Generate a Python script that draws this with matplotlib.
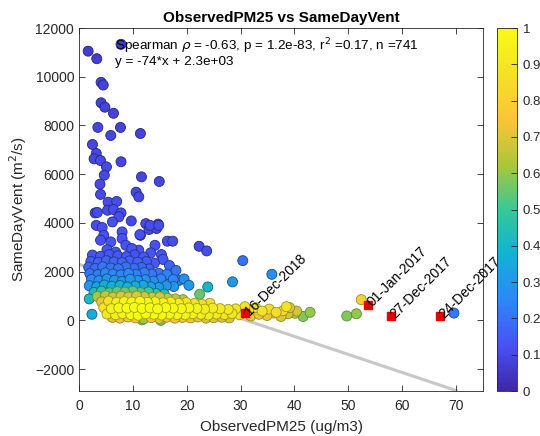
import numpy as np
import matplotlib
matplotlib.use("Agg")
import matplotlib.pyplot as plt
from matplotlib.colors import LinearSegmentedColormap

plt.rcParams['font.family'] = ['Liberation Sans', 'DejaVu Sans']

# ---------------- data ----------------
# sparse upper points (dark blue, low density)
up_x = [1.7, 3.3, 7.8, 4.1, 4.5, 4.1, 4.8, 6.4, 3.5, 7.7, 5.9, 11.4, 2.5, 3.2, 2.8, 4.0, 5.1, 7.8,
        4.7, 11.6, 14.9, 3.9, 4.0, 10.6, 11.1, 5.4, 7.0, 3.4, 5.3, 6.4, 7.8, 7.4, 6.2, 9.7, 3.2, 4.3,
        12.4, 14.7, 13.0, 14.4, 8.0, 11.4, 4.6, 4.0, 8.0, 5.9, 16.4, 17.4, 22.3, 23.7, 14.1, 11.1,
        8.7, 13.3, 30.4, 3.0, 11.3, 13.2, 14.8, 5.2, 9.8, 6.8, 12.0, 15.6, 15.3]
up_y = [11050, 10740, 11330, 9770, 9660, 8930, 8750, 8500, 7920, 7920, 7590, 7670, 7220, 6850, 6630,
        6560, 6300, 6510, 5960, 5890, 5700, 5590, 5170, 5260, 5070, 4850, 4880, 4430, 4520, 4550,
        4410, 4250, 4040, 4080, 3900, 3810, 3970, 3950, 3730, 3770, 3630, 3490, 3490, 3290, 3360,
        3220, 3250, 3250, 3040, 2850, 3080, 2880, 3080, 2770, 2450, 4410, 3520, 3900, 3900, 2900,
        2950, 2800, 2600, 2500, 2700]
up_c = [0.07, 0.07, 0.07, 0.08, 0.08, 0.08, 0.08, 0.08, 0.09, 0.08, 0.09, 0.08, 0.09, 0.09, 0.09,
        0.10, 0.10, 0.09, 0.10, 0.09, 0.09, 0.10, 0.10, 0.10, 0.10, 0.11, 0.11, 0.11, 0.11, 0.11,
        0.11, 0.11, 0.12, 0.10, 0.11, 0.12, 0.10, 0.10, 0.10, 0.10, 0.12, 0.12, 0.12, 0.12, 0.12,
        0.13, 0.11, 0.11, 0.10, 0.11, 0.12, 0.13, 0.13, 0.13, 0.20, 0.10, 0.12, 0.11, 0.11, 0.13,
        0.13, 0.14, 0.14, 0.14, 0.13]

# blue / teal cluster above the dense band
cl_x = [2.8, 4.2, 5.6, 7.1, 8.5, 10.0, 11.4, 12.9, 14.3, 15.8,
        1.9, 3.3, 4.7, 6.1, 7.6, 9.0, 10.4, 11.9, 13.3, 14.8, 16.2, 17.6,
        2.3, 3.7, 5.2, 6.6, 8.0, 9.5, 10.9, 12.3, 13.8, 15.2, 18.6, 20.4,
        2.0, 3.5, 4.9, 6.3, 7.8, 9.2, 10.6, 12.1, 13.5, 14.8, 16.1,
        1.8, 3.0, 4.4, 5.9, 7.3, 8.7, 10.2, 11.6, 13.0,
        2.2, 3.6, 5.1, 6.5, 8.0, 9.4, 10.9, 12.5, 14.0,
        2.5, 4.0, 5.6, 7.2, 8.8, 10.3,
        16.3, 17.5, 19.5, 16.8, 18.0, 35.8, 28.5, 23.9, 1.9, 2.4, 22.4]
cl_y = [1150, 1200, 1130, 1180, 1160, 1200, 1140, 1170, 1100, 1080,
        1420, 1380, 1450, 1400, 1430, 1370, 1410, 1440, 1380, 1350, 1420, 1390,
        1680, 1630, 1700, 1650, 1600, 1690, 1640, 1670, 1610, 1700, 1640, 1440,
        1920, 1880, 1950, 1900, 1870, 1930, 1890, 1960, 1900, 1930, 1850,
        2180, 2130, 2200, 2150, 2120, 2190, 2140, 2170, 2110,
        2420, 2380, 2450, 2400, 2370, 2440, 2390, 2410, 2350,
        2680, 2630, 2700, 2650, 2620, 2690,
        1890, 1680, 1700, 2250, 2050, 1890, 1580, 1370, 880, 250, 1070]
cl_c = [0.42, 0.48, 0.52, 0.55, 0.56, 0.55, 0.53, 0.50, 0.47, 0.44,
        0.30, 0.33, 0.36, 0.38, 0.38, 0.38, 0.36, 0.35, 0.33, 0.31, 0.30, 0.29,
        0.25, 0.27, 0.29, 0.30, 0.30, 0.30, 0.29, 0.28, 0.27, 0.25, 0.25, 0.30,
        0.21, 0.23, 0.25, 0.25, 0.25, 0.25, 0.24, 0.23, 0.22, 0.21, 0.20,
        0.17, 0.19, 0.21, 0.21, 0.21, 0.20, 0.19, 0.18, 0.17,
        0.15, 0.16, 0.17, 0.17, 0.17, 0.16, 0.16, 0.15, 0.14,
        0.13, 0.14, 0.14, 0.14, 0.14, 0.13,
        0.24, 0.25, 0.27, 0.17, 0.20, 0.27, 0.30, 0.40, 0.42, 0.36, 0.55]

# dense yellow band near zero
bd_x = [5.2, 6.8, 8.1, 9.6, 11.0, 12.4, 13.9, 15.3, 16.8, 18.2, 19.7, 21.1, 22.6, 24.0, 25.5, 27.0, 28.4, 29.8,
        4.6, 6.0, 7.4, 8.9, 10.3, 11.7, 13.2, 14.6, 16.1, 17.5, 19.0, 20.4, 21.9, 23.3, 24.8, 26.2, 27.7, 29.1,
        4.2, 5.5, 7.0, 8.4, 9.8, 11.3, 12.7, 14.1, 15.6, 17.0, 18.5, 19.9, 21.4, 22.8, 24.3,
        3.4, 4.9, 6.3, 7.8, 9.2, 10.7, 12.1, 13.6, 15.0, 16.4, 17.9, 19.3,
        6.2, 7.6, 9.1, 10.5, 12.0, 13.4, 14.9, 16.3, 17.8, 19.2, 20.7, 22.1, 23.6, 25.0, 26.5, 27.9,
        11.7, 15.2,
        31.5, 32.8, 34.0, 35.3, 36.6, 37.9, 39.1, 40.4, 31.9, 33.4, 34.9, 36.2, 37.5, 38.8, 30.8, 42.9, 41.6, 40.1, 38.5,
        49.7, 51.5, 52.4, 69.6]
bd_y = [260, 230, 280, 240, 210, 270, 250, 220, 260, 240, 230, 270, 250, 220, 260, 240, 280, 230,
        520, 480, 510, 500, 530, 490, 510, 470, 520, 500, 480, 510, 490, 460, 500, 480, 450, 470,
        760, 790, 740, 770, 750, 780, 740, 760, 720, 750, 700, 730, 690, 660, 700,
        980, 1010, 950, 990, 960, 1000, 970, 940, 960, 900, 880, 850,
        120, 90, 140, 100, 60, 110, 80, 130, 90, 120, 100, 140, 90, 110, 130, 100,
        20, 0,
        420, 520, 380, 460, 330, 400, 520, 380, 180, 250, 200, 300, 160, 270, 560, 330, 160, 290, 560,
        180, 270, 850, 300]
bd_c = [0.90, 0.94, 0.96, 0.98, 0.99, 1.00, 0.99, 0.98, 0.97, 0.96, 0.95, 0.94, 0.93, 0.92, 0.91, 0.90, 0.90, 0.89,
        0.88, 0.95, 0.98, 1.00, 1.00, 1.00, 1.00, 1.00, 0.99, 0.98, 0.97, 0.96, 0.95, 0.93, 0.92, 0.91, 0.90, 0.89,
        0.72, 0.88, 0.94, 0.97, 0.98, 0.98, 0.97, 0.96, 0.95, 0.94, 0.92, 0.90, 0.89, 0.87, 0.86,
        0.62, 0.66, 0.68, 0.70, 0.70, 0.70, 0.69, 0.68, 0.68, 0.67, 0.66, 0.65,
        0.70, 0.72, 0.74, 0.75, 0.62, 0.75, 0.72, 0.74, 0.74, 0.73, 0.72, 0.72, 0.70, 0.70, 0.70, 0.69,
        0.58, 0.56,
        0.88, 0.86, 0.88, 0.85, 0.86, 0.84, 0.70, 0.68, 0.72, 0.74, 0.73, 0.72, 0.70, 0.68, 0.88, 0.60, 0.58, 0.66, 0.88,
        0.58, 0.60, 0.80, 0.22]

# highlighted dates
hl_x = [30.9, 53.7, 57.9, 67.0]
hl_y = [300, 650, 160, 160]
hl_labels = ['16-Dec-2018', '01-Jan-2017', '27-Dec-2017', '24-Dec-2017']

# regression fit
fit_slope = -74
fit_intercept = 2300
fit_x = [0, 70]

title = 'ObservedPM25 vs SameDayVent'
xlabel = 'ObservedPM25 (ug/m3)'
ylabel = 'SameDayVent (m$^2$/s)'
stats_text = 'Spearman $\\rho$ = -0.63, p = 1.2e-83, r$^2$ =0.17, n =741\ny = -74*x + 2.3e+03'
cbar_labels = ['0', '0.1', '0.2', '0.3', '0.4', '0.5', '0.6', '0.7', '0.8', '0.9', '1']

# ---------------- colormap (parula approximation) ----------------
parula_pts = [(0.0, (0.2422, 0.1504, 0.6603)),
              (0.125, (0.2810, 0.3228, 0.9579)),
              (0.25, (0.1786, 0.5289, 0.9682)),
              (0.375, (0.0689, 0.6948, 0.8394)),
              (0.5, (0.2161, 0.7843, 0.5923)),
              (0.625, (0.6720, 0.7793, 0.2227)),
              (0.75, (0.9970, 0.7659, 0.2199)),
              (0.875, (0.9600, 0.8800, 0.1500)),
              (1.0, (0.9769, 0.9839, 0.0805))]
parula = LinearSegmentedColormap.from_list('parula', parula_pts)

# ---------------- plot ----------------
fig = plt.figure(figsize=(5.4, 4.36), dpi=100)
ax = fig.add_axes([79/540, 1-391/436, 404/540, 363/436])
cax = fig.add_axes([497/540, 1-391/436, 20/540, 363/436])

xs = np.array(up_x + cl_x + bd_x, dtype=float)
ys = np.array(up_y + cl_y + bd_y, dtype=float)
cs = np.array(up_c + cl_c + bd_c, dtype=float)
order = np.argsort(cs, kind='stable')
xs, ys, cs = xs[order], ys[order], cs[order]

fx = np.array(fit_x, dtype=float)
ax.plot(fx, fit_slope * fx + fit_intercept, color=(0.78, 0.78, 0.78), lw=2.2, zorder=1)

face = parula(cs)
edge = face.copy()
edge[:, :3] = edge[:, :3] * 0.55 + np.array([0.05, 0.12, 0.05]) * (cs[:, None] > 0.5)
sc = ax.scatter(xs, ys, c=cs, cmap=parula, vmin=0, vmax=1, s=52,
                edgecolors=edge, linewidths=0.6, zorder=2)

ax.plot(hl_x, hl_y, 's', color=(0.9, 0.0, 0.0), ms=6, mec=(0.9, 0.0, 0.0), zorder=3)
for hx, hy, lab in zip(hl_x, hl_y, hl_labels):
    ax.text(hx + 0.3, hy, lab, rotation=45, rotation_mode='anchor', ha='left', va='center',
            fontsize=10, color='black', zorder=4)

ax.text(6.6, 11650, stats_text, fontsize=9.7, va='top', ha='left', linespacing=1.0, zorder=4)

ax.set_xlim(0, 75)
ax.set_ylim(-2900, 12000)
ax.set_xticks(np.arange(0, 71, 10))
ax.set_yticks(np.arange(-2000, 12001, 2000))
ax.tick_params(direction='in', top=True, right=True, labelsize=10, length=4,
               colors=(0.15, 0.15, 0.15), width=0.6)
ax.tick_params(axis='x', pad=6)
for sp in ax.spines.values():
    sp.set_color((0.15, 0.15, 0.15))
    sp.set_linewidth(0.6)
ax.set_title(title, fontsize=11, fontweight='bold', pad=4)
ax.set_xlabel(xlabel, fontsize=11, color=(0.15, 0.15, 0.15), labelpad=5)
ax.set_ylabel(ylabel, fontsize=11, color=(0.15, 0.15, 0.15))

cb = fig.colorbar(sc, cax=cax, ticks=np.linspace(0, 1, 11))
cb.ax.set_yticklabels(cbar_labels)
cb.ax.tick_params(direction='in', labelsize=9.5, length=4, width=0.6, pad=4,
                  colors=(0.15, 0.15, 0.15))
cb.outline.set_linewidth(0.6)
cb.outline.set_edgecolor((0.15, 0.15, 0.15))

fig.savefig('out.png', dpi=100)
